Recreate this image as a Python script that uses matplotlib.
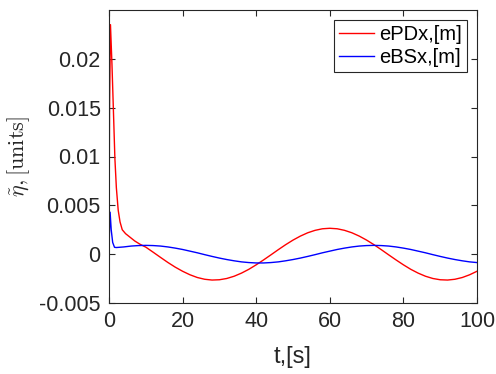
import numpy as np
import matplotlib
matplotlib.use("Agg")
import matplotlib.pyplot as plt

plt.rcParams["font.family"] = ["Liberation Sans", "DejaVu Sans"]
plt.rcParams["mathtext.fontset"] = "cm"

# time samples (s): dense at start for the transient, then every 2 s
t_start = [0.0, 0.15, 0.4, 0.8, 1.2, 1.6, 2.0, 2.5, 3.0, 3.6, 4.5, 5.5, 7.0, 8.5, 10.0]
t_rest = [12, 14, 16, 18, 20, 22, 24, 26, 28, 30, 32, 34, 36, 38, 40, 42, 44, 46,
          48, 50, 52, 54, 56, 58, 60, 62, 64, 66, 68, 70, 72, 74, 76, 78, 80, 82,
          84, 86, 88, 90, 92, 94, 96, 98, 100]

e_pd_start = [0.0, 0.0150, 0.0235, 0.0195, 0.0147, 0.0098, 0.0068, 0.0045, 0.0033,
              0.0025, 0.0021, 0.0018, 0.00135, 0.0010, 0.00072]
e_pd_rest = [0.00020, -0.00033, -0.00085, -0.00133, -0.00175, -0.00211, -0.00239,
             -0.00257, -0.00265, -0.00262, -0.00249, -0.00226, -0.00194, -0.00155,
             -0.00109, -0.00059, -0.00007, 0.00046, 0.00097, 0.00144, 0.00185,
             0.00219, 0.00244, 0.00260, 0.00265, 0.00260, 0.00244, 0.00219, 0.00185,
             0.00144, 0.00097, 0.00046, -0.00007, -0.00059, -0.00109, -0.00155,
             -0.00194, -0.00226, -0.00249, -0.00262, -0.00265, -0.00257, -0.00239,
             -0.00211, -0.00175]

t_bs_start = [0.0, 0.1, 0.3, 0.6, 1.0, 1.5, 2.0, 4.0, 6.0, 8.0, 10.0]
e_bs_start = [0.0, 0.0020, 0.0043, 0.0025, 0.0012, 0.0007, 0.00068, 0.00074,
              0.00083, 0.00088, 0.00090]
e_bs_rest = [0.00088, 0.00083, 0.00074, 0.00062, 0.00048, 0.00031, 0.00014,
             -0.00005, -0.00023, -0.00040, -0.00055, -0.00068, -0.00079, -0.00086,
             -0.00090, -0.00090, -0.00086, -0.00079, -0.00068, -0.00055, -0.00040,
             -0.00023, -0.00005, 0.00014, 0.00031, 0.00048, 0.00062, 0.00074,
             0.00083, 0.00088, 0.00090, 0.00088, 0.00083, 0.00074, 0.00062,
             0.00048, 0.00031, 0.00014, -0.00005, -0.00023, -0.00040, -0.00055,
             -0.00068, -0.00079, -0.00086]

x_ticks = [0, 20, 40, 60, 80, 100]
y_ticks = [-0.005, 0, 0.005, 0.01, 0.015, 0.02]
y_tick_labels = ["-0.005", "0", "0.005", "0.01", "0.015", "0.02"]

t_pd = np.array(t_start + t_rest, dtype=float)
y_pd = np.array(e_pd_start + e_pd_rest)
t_bs = np.array(t_bs_start + t_rest, dtype=float)
y_bs = np.array(e_bs_start + e_bs_rest)

fig = plt.figure(figsize=(4.96, 3.74), dpi=100)
ax = fig.add_axes([109 / 496, 1 - 303 / 374, 368 / 496, 293 / 374])

ax.plot(t_pd, y_pd, color="#ff0000", lw=1.0, label="ePDx,[m]")
ax.plot(t_bs, y_bs, color="#0000ff", lw=1.0, label="eBSx,[m]")

ax.set_xlim(0, 100)
ax.set_ylim(-0.005, 0.025)
ax.set_xticks(x_ticks)
ax.set_yticks(y_ticks)
ax.set_yticklabels(y_tick_labels)
ax.tick_params(direction="in", top=True, right=True, length=4, width=0.8,
               labelsize=15.5, colors="#262626", pad=6)
for s in ax.spines.values():
    s.set_color("#262626")
    s.set_linewidth(0.8)

ax.set_xlabel("t,[s]", fontsize=17, color="#262626", labelpad=10)
ax.set_ylabel(r"$\tilde{\eta},[\mathrm{units}]$", fontsize=16, color="#262626",
              labelpad=5)

leg = ax.legend(loc="upper right", fontsize=14.5, handlelength=1.75,
                handletextpad=0.25, borderpad=0.25, labelspacing=0.2,
                borderaxespad=0.5, fancybox=False, framealpha=1)
leg.get_frame().set_edgecolor("#262626")
leg.get_frame().set_linewidth(0.8)

fig.savefig("out.png", dpi=100)
